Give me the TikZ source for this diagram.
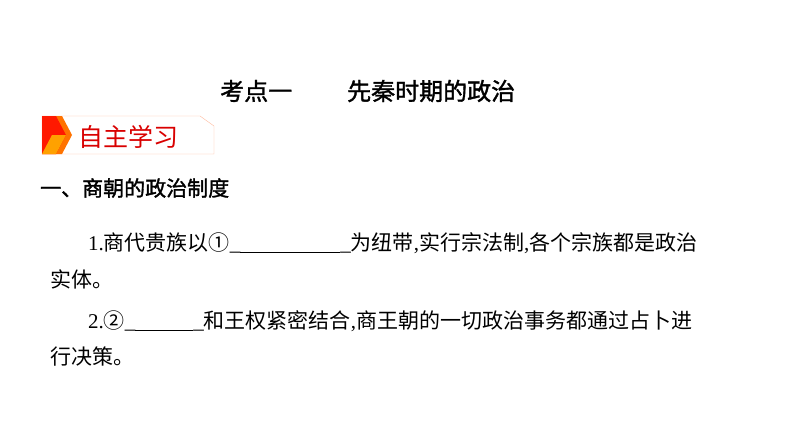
\documentclass[tikz,border=0pt]{standalone}
\usepackage{fontspec}
\setmainfont{Liberation Serif}
\newfontfamily\cjk{Noto Sans CJK SC}
\newfontfamily\cjkm[FakeBold=1.5]{Noto Sans CJK SC}
\newcommand\blank[1]{\_\rule[-3pt]{#1}{1.3pt}\_}
\begin{document}
\begin{tikzpicture}[x=1pt,y=-1pt,
 txt/.style={anchor=west,inner sep=0pt,font=\fontsize{21}{21}\selectfont}]
\useasboundingbox[fill=white] (0,0) rectangle (794,447);
\node[anchor=west,inner sep=0pt,font=\cjkm\fontsize{24}{24}\selectfont] (title) at (220,91) {考点一\hspace{55pt}先秦时期的政治};
% badge
\draw[draw=orange!60!red!40,fill=white] (42,116) -- (200,116) -- (214,126) -- (214,154) -- (42,154) -- cycle;
\fill[orange!90!red] (42,116) -- (62,116) -- (72,135) -- (62,154) -- (42,154) -- cycle;
\fill[red!80!orange] (42,116) -- (56,116) -- (66,135) -- (56,154) -- (42,154) -- cycle;
\fill[orange!60!yellow!90!red] (52,135) -- (66,135) -- (56,154) -- (42,154) -- cycle;
\node[anchor=west,inner sep=0pt,text=red!85!black,font=\cjk\fontsize{25}{25}\selectfont] (badge) at (78,137) {自主学习};
\node[txt] (h1) at (40,188) {\cjkm 一、商朝的政治制度};
\node[txt] (l1) at (88,243) {1.{\cjk 商代贵族以①}\blank{100pt}{\cjk 为纽带}{,}{\cjk 实行宗法制}{,}{\cjk 各个宗族都是政治}};
\node[txt] (l1b) at (50,279) {\cjk 实体。};
\node[txt] (l2) at (88,321) {2.{\cjk ②}\blank{58pt}{\cjk 和王权紧密结合}{,}{\cjk 商王朝的一切政治事务都通过占卜进}};
\node[txt] (l2b) at (50,357) {\cjk 行决策。};
\end{tikzpicture}
\end{document}
